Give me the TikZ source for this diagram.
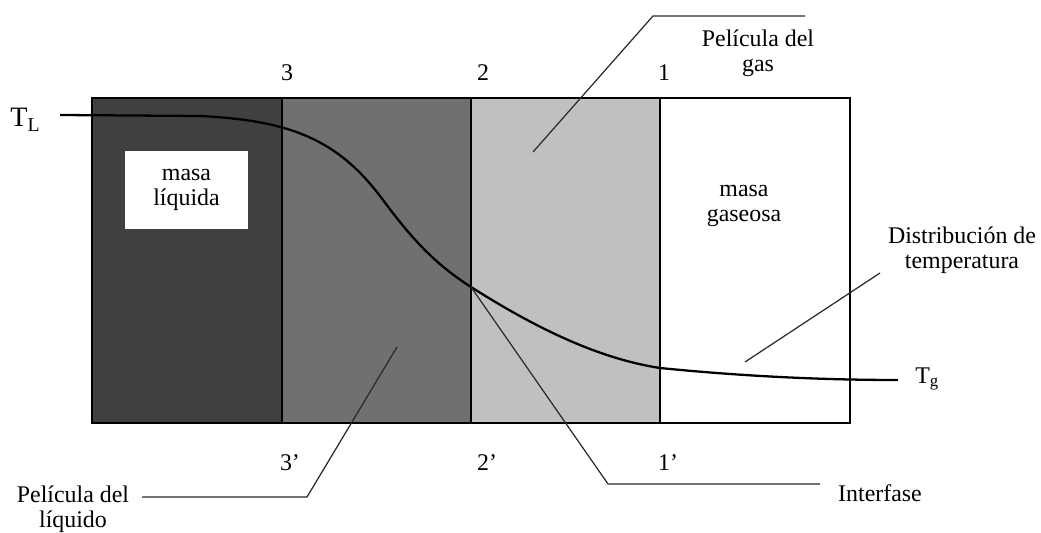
\documentclass[tikz,border=0pt]{standalone}
\usepackage{fontspec}
\setmainfont{Liberation Serif}
\usepackage{tikz}
\definecolor{liqmass}{HTML}{404040}
\definecolor{liqfilm}{HTML}{707070}
\definecolor{gasfilm}{HTML}{C0C0C0}
\definecolor{leader}{HTML}{2A2A2A}

\tikzset{
  lab/.style={font=\fontsize{13.6}{14}\selectfont,inner sep=0pt,align=center},
  band/.style={draw=black,line width=0.6pt},
  leadline/.style={leader,line width=0.7pt},
}

\begin{document}
\begin{tikzpicture}[x=0.02cm,y=-0.02cm]
  \useasboundingbox (0,0) rectangle (1041,533);
  % phases
  \foreach \xa/\xb/\col in {92/282/liqmass,282/471/liqfilm,471/660/gasfilm,660/850/white}{
    \filldraw[band,fill=\col] (\xa,98) rectangle (\xb,423);
  }
  \node[lab,fill=white,minimum width=2.46cm,minimum height=1.56cm,
        font=\fontsize{13.6}{14.7}\selectfont] (liq) at (186.5,190) {masa\\líquida};
  \node[lab,font=\fontsize{13.6}{14.2}\selectfont] (gas) at (744,205.5) {masa\\gaseosa};
  \foreach \x/\lab/\nm in {287/3/c,483/2/b,664/1/a}{
    \node[lab] (top\nm) at (\x,73) {\lab};
  }
  \foreach \x/\lab/\nm in {290/3’/c,487/2’/b,668/1’/a}{
    \node[lab] (bot\nm) at (\x,463) {\lab};
  }
  % temperature profile
  \node[lab,anchor=base west,font=\fontsize{16}{16}\selectfont] (TL) at (10,127) {T\textsubscript{L}};
  \node[lab,anchor=base west] (Tg) at (915,383) {T\textsubscript{g}};
  \coordinate (iface) at (471,287);
  \draw[line width=1.3pt] (60,115) -- (200,116)
    .. controls (290,120.5) and (338,139) .. (383,200)
    .. controls (413,240.5) and (436,264.6) .. (iface)
    .. controls (531,325) and (595,358) .. (660,368)
    .. controls (740,376) and (820,380) .. (898,380);
  % labels with leaders
  \node[lab] (pgas) at (758,53.5) {Película del\\gas};
  \node[lab] (pliq) at (73,509) {Película del\\líquido};
  \node[lab] (inter) at (880,493) {Interfase};
  \node[lab] (dist) at (962,250) {Distribución de\\temperatura};
  \coordinate (pgasA) at (533,152);
  \coordinate (pgasB) at (805,16);
  \coordinate (pliqA) at (397,347);
  \coordinate (pliqB) at (142,497);
  \coordinate (interB) at (820,484);
  \coordinate (distA) at (745,362);
  \coordinate (distB) at (880,273);
  \draw[leadline] (pgasA) -- (653,16) -- (pgasB);
  \draw[leadline] (pliqA) -- (307,497) -- (pliqB);
  \draw[leadline] (iface) -- (608,484) -- (interB);
  \draw[leadline] (distA) -- (distB);
\end{tikzpicture}
\end{document}
